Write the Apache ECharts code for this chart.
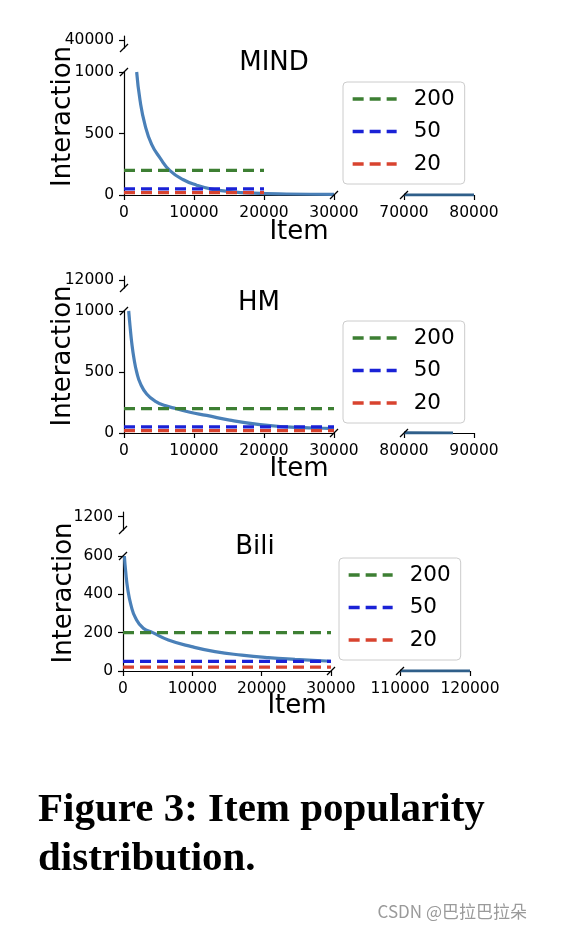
<!DOCTYPE html>
<html>
<head>
<meta charset="utf-8">
<script src="https://cdn.jsdelivr.net/npm/echarts@6/dist/echarts.min.js"></script>
<style>
html,body{margin:0;padding:0;background:#fff;}
#chart{width:576px;height:932px;}
</style>
</head>
<body>
<div id="chart"></div>
<script>
// ---------- data ----------
const datasetNames = ['MIND', 'HM', 'Bili'];

const mindItems  = [1810, 2290, 3000, 3950, 5140, 6570, 8480, 10380, 12500, 15140, 18480, 23200, 30000];
const mindCounts = [1000, 770, 570, 412, 302, 198, 124, 80, 48, 28, 15, 8, 5];
const mindTailItems  = [70000, 80000];
const mindTailCounts = [1, 1];

const hmItems  = [670, 860, 1100, 1430, 1810, 2380, 3240, 4430, 5860, 7520, 9430, 11810, 15100, 19430, 23240, 27000, 30000];
const hmCounts = [1000, 878, 743, 608, 500, 400, 320, 262, 225, 199, 170, 144, 105, 68, 50, 41, 36];
const hmTailItems  = [80000, 87000];
const hmTailCounts = [2, 1];

const biliItems  = [200, 390, 670, 1150, 1830, 2930, 4300, 6540, 9900, 13270, 17120, 20960, 24800, 30000];
const biliCounts = [600, 518, 431, 344, 275, 223, 200, 162, 127, 101, 83, 70, 61, 51];
const biliTailItems  = [110000, 120000];
const biliTailCounts = [1, 1];

const thresholdValues = [200, 50, 20];
const thresholdLabels = ['200', '50', '20'];
const thresholdEnds = [20000, 30000, 30000];

// ---------- axes / ticks ----------
const leftXRange = [0, 30000];
const leftXInterval = 10000;
const rightXRanges = [[70000, 80000], [80000, 90000], [110000, 120000]];
const mainYMax = [1000, 1000, 600];
const mainYInterval = [500, 500, 200];
const topYTicks = [[40000], [12000], [1200]];
const topYRanges = [[30000, 45000], [9000, 13500], [900, 1300]];

const curveItems = [mindItems, hmItems, biliItems];
const curveCounts = [mindCounts, hmCounts, biliCounts];
const tailItems = [mindTailItems, hmTailItems, biliTailItems];
const tailCounts = [mindTailCounts, hmTailCounts, biliTailCounts];

// ---------- layout & style ----------
const layout = [
  {topY: 36, topH: 12, mainY: 72, mainH: 123, leftX: 124, leftW: 210, rightX: 404, rightW: 70,
   legendX: 343, legendY: 82, titleX: 274, titleY: 63, itemX: 299, itemY: 232, ylabX: 63.5, ylabY: 116.5},
  {topY: 276, topH: 12, mainY: 311, mainH: 122, leftX: 124, leftW: 210, rightX: 404, rightW: 70,
   legendX: 343, legendY: 321, titleX: 259, titleY: 303, itemX: 299, itemY: 469, ylabX: 63.5, ylabY: 356},
  {topY: 512, topH: 18, mainY: 556, mainH: 115, leftX: 123, leftW: 208, rightX: 400, rightW: 70,
   legendX: 339, legendY: 558, titleX: 255, titleY: 547, itemX: 297, itemY: 706, ylabX: 64, ylabY: 593}
];
const curveColor = '#4a80b8';
const thresholdColors = ['#3d7f33', '#1a22d6', '#d8432f'];
const FONT = 'DejaVu Sans';
const plain = v => String(v);

const axisLine = {show: true, onZero: false, lineStyle: {color: '#000', width: 1.2}};
const axisTick = {show: true, inside: false, length: 5, lineStyle: {color: '#000', width: 1.2}};
const axisLabel = {fontFamily: FONT, fontSize: 15.5, color: '#000', formatter: plain};

const grid = [], xAxis = [], yAxis = [], series = [], legend = [], graphic = [];

layout.forEach((L, p) => {
  grid.push({left: L.leftX, top: L.topY, width: L.leftW, height: L.topH, containLabel: false});
  grid.push({left: L.leftX, top: L.mainY, width: L.leftW, height: L.mainH, containLabel: false});
  grid.push({left: L.rightX, top: L.mainY, width: L.rightW, height: L.mainH, containLabel: false});
  const g0 = 3 * p;

  xAxis.push({gridIndex: g0, type: 'value', min: leftXRange[0], max: leftXRange[1], show: false});
  yAxis.push({gridIndex: g0, type: 'value', min: topYRanges[p][0], max: topYRanges[p][1],
    axisLine, splitLine: {show: false},
    axisTick: Object.assign({}, axisTick, {customValues: topYTicks[p]}),
    axisLabel: Object.assign({}, axisLabel, {customValues: topYTicks[p], margin: 10})});

  xAxis.push({gridIndex: g0 + 1, type: 'value', min: leftXRange[0], max: leftXRange[1], interval: leftXInterval,
    axisLine, axisTick, splitLine: {show: false},
    axisLabel: Object.assign({}, axisLabel, {margin: 10, showMinLabel: true, showMaxLabel: true})});
  yAxis.push({gridIndex: g0 + 1, type: 'value', min: 0, max: mainYMax[p], interval: mainYInterval[p],
    axisLine, axisTick, splitLine: {show: false},
    axisLabel: Object.assign({}, axisLabel, {margin: 10})});

  xAxis.push({gridIndex: g0 + 2, type: 'value', min: rightXRanges[p][0], max: rightXRanges[p][1], interval: 10000,
    axisLine, axisTick, splitLine: {show: false},
    axisLabel: Object.assign({}, axisLabel, {margin: 10, showMinLabel: true, showMaxLabel: true})});
  yAxis.push({gridIndex: g0 + 2, type: 'value', min: 0, max: mainYMax[p], show: false});

  series.push({
    name: datasetNames[p] + ' popularity', type: 'line', xAxisIndex: g0 + 1, yAxisIndex: g0 + 1,
    data: curveItems[p].map((x, i) => [x, curveCounts[p][i]]),
    symbol: 'none', smooth: 0.5, clip: true,
    color: curveColor, lineStyle: {color: curveColor, width: 3.2}, z: 2
  });
  series.push({
    name: datasetNames[p] + ' tail', type: 'line', xAxisIndex: g0 + 2, yAxisIndex: g0 + 2,
    data: tailItems[p].map((x, i) => [x, tailCounts[p][i]]),
    symbol: 'none', clip: false,
    color: curveColor, lineStyle: {color: '#2f5f8a', width: 2.8}, z: 3
  });
  thresholdValues.forEach((v, k) => {
    series.push({
      name: thresholdLabels[k], type: 'line', xAxisIndex: g0 + 1, yAxisIndex: g0 + 1,
      data: [[0, v], [thresholdEnds[p], v]],
      symbol: 'none', color: thresholdColors[k],
      lineStyle: {color: thresholdColors[k], width: 3.3, type: [11, 6]}, z: 3
    });
  });

  legend.push({
    left: L.legendX, top: L.legendY, orient: 'vertical', data: thresholdLabels,
    itemWidth: 44, itemHeight: 24, itemGap: 8.5, padding: [5, 10, 8, 8],
    backgroundColor: 'rgba(255,255,255,0.8)', borderColor: '#cccccc', borderWidth: 1, borderRadius: 4,
    selectedMode: false,
    lineStyle: {width: 3.3},
    itemStyle: {opacity: 0},
    textStyle: {fontFamily: FONT, fontSize: 21.5, color: '#000', lineHeight: 24, padding: [0, 0, 0, 12]}
  });

  graphic.push({type: 'text', id: 'title' + p, x: L.titleX, y: L.titleY, silent: true,
    style: {text: datasetNames[p], fontFamily: FONT, fontSize: 26, fill: '#000', align: 'center', verticalAlign: 'middle'}});
  graphic.push({type: 'text', id: 'xlab' + p, x: L.itemX, y: L.itemY, silent: true,
    style: {text: 'Item', fontFamily: FONT, fontSize: 26, fill: '#000', align: 'center', verticalAlign: 'middle'}});
  graphic.push({type: 'text', id: 'ylab' + p, x: L.ylabX, y: L.ylabY, rotation: Math.PI / 2, silent: true,
    style: {text: 'Interaction', fontFamily: FONT, fontSize: 26, fill: '#000', align: 'center', verticalAlign: 'middle'}});
});

graphic.push({type: 'text', id: 'cap1', x: 38, y: 810.5, silent: true,
  style: {text: 'Figure 3: Item popularity', fontFamily: 'Liberation Serif', fontWeight: 'bold', fontSize: 41,
    fill: '#000', align: 'left', verticalAlign: 'middle'}});
graphic.push({type: 'text', id: 'cap2', x: 38, y: 859.5, silent: true,
  style: {text: 'distribution.', fontFamily: 'Liberation Serif', fontWeight: 'bold', fontSize: 41,
    fill: '#000', align: 'left', verticalAlign: 'middle'}});
graphic.push({type: 'text', id: 'wm', x: 527, y: 912, silent: true,
  style: {text: 'CSDN @巴拉巴拉朵', fontFamily: 'Noto Sans CJK SC', fontSize: 17,
    fill: '#9a9a9a', align: 'right', verticalAlign: 'middle'}});

const chart = echarts.init(document.getElementById('chart'), null, {renderer: 'canvas'});
chart.setOption({
  animation: false, backgroundColor: '#fff',
  grid, xAxis, yAxis, series, legend, graphic
});

// break marks at the ends of the split axes
const breaks = [];
const d = 4;
layout.forEach((L, p) => {
  const g0 = 3 * p;
  const pts = [
    chart.convertToPixel({xAxisIndex: g0, yAxisIndex: g0}, [leftXRange[0], topYRanges[p][0]]),
    chart.convertToPixel({xAxisIndex: g0 + 1, yAxisIndex: g0 + 1}, [leftXRange[0], mainYMax[p]]),
    chart.convertToPixel({xAxisIndex: g0 + 1, yAxisIndex: g0 + 1}, [leftXRange[1], 0]),
    chart.convertToPixel({xAxisIndex: g0 + 2, yAxisIndex: g0 + 2}, [rightXRanges[p][0], 0])
  ];
  pts.forEach((pt, i) => {
    breaks.push({type: 'line', id: 'brk' + p + '_' + i, silent: true, z: 10,
      shape: {x1: pt[0] - d, y1: pt[1] + d, x2: pt[0] + d, y2: pt[1] - d},
      style: {stroke: '#000', lineWidth: 1.2}});
  });
});
chart.setOption({graphic: breaks});
</script>
</body>
</html>
